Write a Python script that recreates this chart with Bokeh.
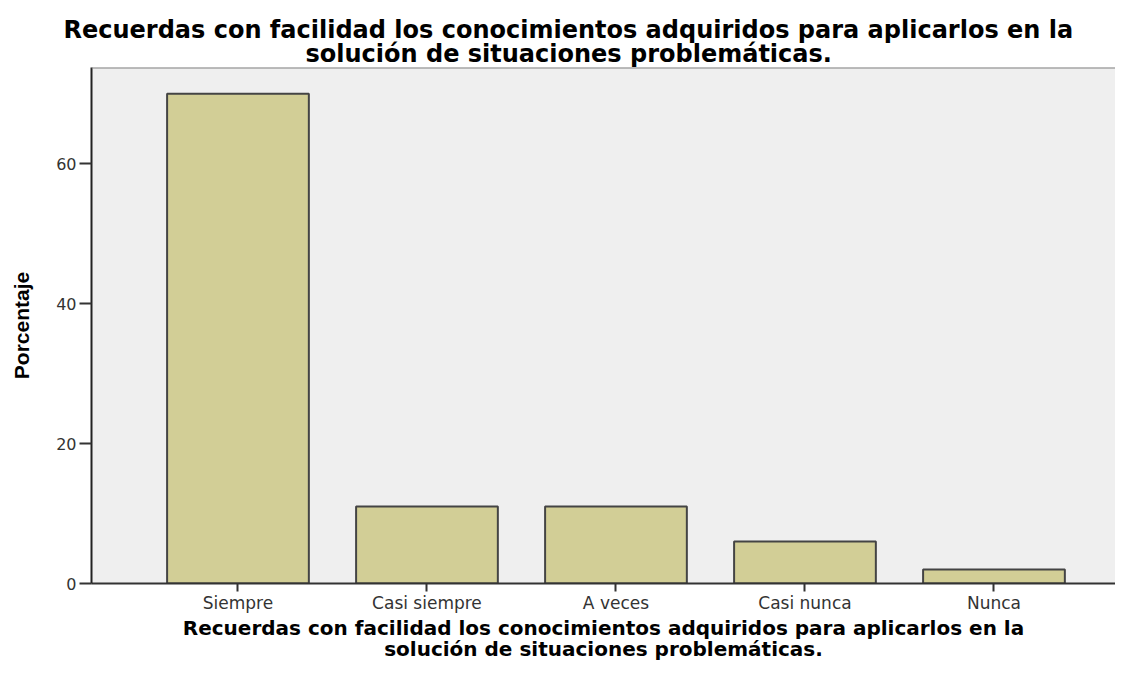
from bokeh.plotting import figure
from bokeh.models import Range1d, FixedTicker, Span, Title
from bokeh.embed import file_html
from bokeh.resources import INLINE

categories = ["Siempre", "Casi siempre", "A veces", "Casi nunca", "Nunca"]
porcentaje = [70, 11, 11, 6, 2]
y_ticks = [0, 20, 40, 60]
title_line1 = "Recuerdas con facilidad los conocimientos adquiridos para aplicarlos en la"
title_line2 = "solución de situaciones problemáticas."
y_label = "Porcentaje"

x_pos = list(range(len(categories)))

p = figure(width=1115, height=662, output_backend="svg", toolbar_location=None,
           x_range=Range1d(-0.775, 4.643), y_range=Range1d(0, 73.75),
           min_border_left=91, min_border_right=0, min_border_top=67, min_border_bottom=79)
p.background_fill_color = "#EFEFEF"
p.border_fill_color = "white"
p.outline_line_color = None
p.grid.visible = False

p.vbar(x=x_pos, top=porcentaje, width=0.75, fill_color="#D2CE96",
       line_color="#444444", line_width=2)

p.add_layout(Span(location=73.75, dimension="width", line_color="#808080", line_width=2))

TF = dict(text_font="DejaVu Sans", text_font_style="bold", text_color="black")

# top title (line 2 first: it sits closest to the frame)
p.add_layout(Title(text=title_line2, align="left", offset=214, text_font_size="24px",
                   standoff=-1.4, **TF), "above")
p.add_layout(Title(text=title_line1, align="left", offset=-28, text_font_size="24px",
                   standoff=-10, **TF), "above")

# axes
p.xaxis.ticker = FixedTicker(ticks=x_pos)
p.xaxis.major_label_overrides = {i: c for i, c in zip(x_pos, categories)}
p.xaxis.minor_tick_line_color = None
p.xaxis.major_tick_in = 0
p.xaxis.major_tick_out = 8
p.xaxis.major_tick_line_width = 2
p.xaxis.major_tick_line_color = "#333333"
p.xaxis.axis_line_color = "#333333"
p.xaxis.axis_line_width = 2
p.xaxis.major_label_text_font = "DejaVu Sans"
p.xaxis.major_label_text_font_size = "17px"
p.xaxis.major_label_text_color = "#333333"
p.xaxis.major_label_standoff = 1

# x-axis title, two centred lines below the axis
p.add_layout(Title(text=title_line1, align="center", text_font_size="20px",
                   standoff=-3.2, **TF), "below")
p.add_layout(Title(text=title_line2, align="center", text_font_size="20px",
                   standoff=-7.4, **TF), "below")

p.yaxis.ticker = FixedTicker(ticks=y_ticks)
p.yaxis.minor_tick_line_color = None
p.yaxis.major_tick_in = 0
p.yaxis.major_tick_out = 12
p.yaxis.major_tick_line_width = 2
p.yaxis.major_tick_line_color = "#333333"
p.yaxis.axis_line_color = "#222222"
p.yaxis.axis_line_width = 2
p.yaxis.major_label_text_font = "DejaVu Sans"
p.yaxis.major_label_text_font_size = "16px"
p.yaxis.major_label_text_color = "#333333"
p.yaxis.major_label_standoff = 3
p.yaxis.axis_label = y_label
p.yaxis.axis_label_text_font = "Liberation Sans"
p.yaxis.axis_label_text_font_style = "bold"
p.yaxis.axis_label_text_font_size = "21px"
p.yaxis.axis_label_text_color = "black"
p.yaxis.axis_label_standoff = 20

open("out.html", "w").write(file_html(p, INLINE))
